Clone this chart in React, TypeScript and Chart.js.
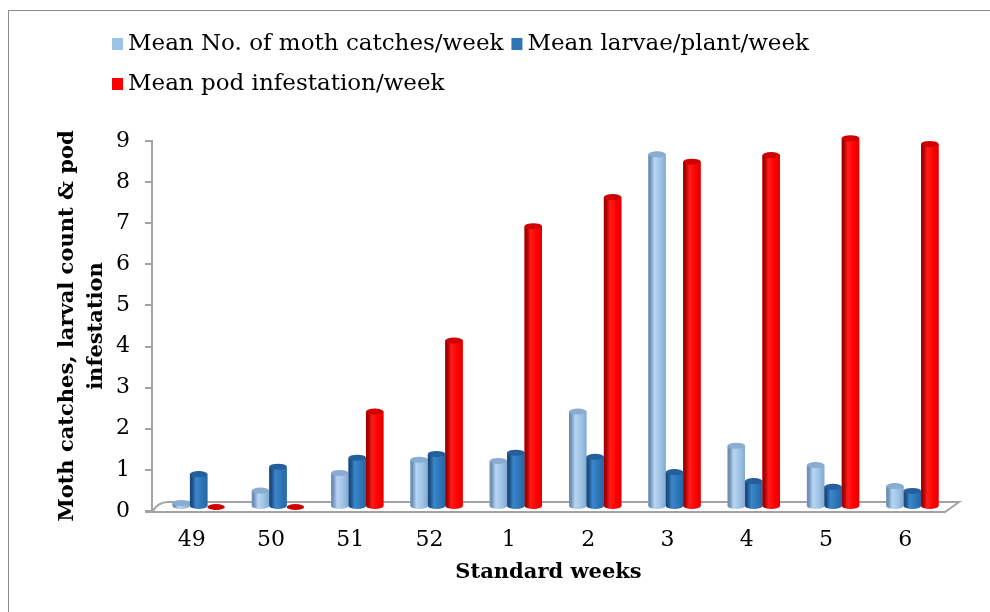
import React, { useEffect, useRef } from "react";
import { Chart, registerables } from "chart.js";

Chart.register(...registerables);

// ---- data ----
const weeks = ["49", "50", "51", "52", "1", "2", "3", "4", "5", "6"];
const mothCatches = [0.1, 0.4, 0.83, 1.15, 1.12, 2.32, 8.58, 1.49, 1.02, 0.51];
const larvaePerPlant = [0.8, 0.98, 1.2, 1.29, 1.32, 1.22, 0.85, 0.63, 0.49, 0.39];
const podInfestation = [0, 0, 2.32, 4.05, 6.83, 7.54, 8.4, 8.56, 8.97, 8.83];
const seriesLabels = [
  "Mean No. of moth catches/week",
  "Mean larvae/plant/week",
  "Mean pod infestation/week",
];
const yTitle = ["Moth catches, larval count & pod", "infestation"];
const xTitle = "Standard weeks";
const yMin = 0;
const yMax = 9;

// ---- styles ----
const palette = [
  { base: "#9DC3E6", edge: "#7190b6", light: "#b7d5f2", right: "#86a8cf", top: "#8aabd2" },
  { base: "#2E75B6", edge: "#1b4d80", light: "#3a86cc", right: "#2866a3", top: "#245f9c" },
  { base: "#FF0000", edge: "#a50000", light: "#ff1c1c", right: "#e00000", top: "#d00000" },
];
const SERIF = '"DejaVu Serif", "Liberation Serif", serif';
const AXIS_GRAY = "#a3a3a3";
const DEPTH_X = 7;
const DEPTH_Y = -4;

const depthPlugin = {
  id: "depth3d",
  beforeDatasetsDraw(chart: any) {
    const { ctx, chartArea: a } = chart;
    ctx.save();
    ctx.strokeStyle = AXIS_GRAY;
    ctx.lineWidth = 2;
    ctx.beginPath();
    // front edge of floor
    ctx.moveTo(a.left - 7, a.bottom + 1);
    ctx.lineTo(a.right, a.bottom + 1);
    ctx.lineTo(a.right + 14, a.bottom - 9);
    // back edge of floor
    ctx.lineTo(a.left + 16, a.bottom - 9);
    ctx.quadraticCurveTo(a.left + 6, a.bottom - 9, a.left, a.bottom + 1);
    ctx.stroke();
    ctx.restore();
    ctx.save();
    ctx.translate(DEPTH_X, DEPTH_Y);
  },
  afterDatasetsDraw(chart: any) {
    const ctx = chart.ctx;
    chart.data.datasets.forEach((_ds: any, di: number) => {
      const meta = chart.getDatasetMeta(di);
      const pal = palette[di];
      meta.data.forEach((bar: any) => {
        const { x, y, base, width } = bar.getProps(["x", "y", "base", "width"], true);
        const l = x - width / 2;
        const r = x + width / 2;
        const ry = Math.min(3, width * 0.18);
        if (base - y > 0.5) {
          const g = ctx.createLinearGradient(l, 0, r, 0);
          g.addColorStop(0, pal.edge);
          g.addColorStop(0.12, pal.edge);
          g.addColorStop(0.35, pal.light);
          g.addColorStop(0.7, pal.base);
          g.addColorStop(1, pal.right);
          ctx.fillStyle = g;
          ctx.beginPath();
          ctx.rect(l, y, width, base - y);
          ctx.moveTo(r, base);
          ctx.ellipse(x, base, width / 2, ry, 0, 0, Math.PI);
          ctx.fill();
        }
        ctx.beginPath();
        ctx.ellipse(x, y, width / 2, ry, 0, 0, Math.PI * 2);
        ctx.fillStyle = pal.top;
        ctx.fill();
      });
    });
    ctx.restore();
  },
};

const legendPlugin = {
  id: "topLegend",
  afterDraw(chart: any) {
    const ctx = chart.ctx;
    const rows = [[0, 1], [2]];
    ctx.save();
    ctx.font = `23px ${SERIF}`;
    ctx.textBaseline = "middle";
    ctx.textAlign = "left";
    let yy = 44;
    rows.forEach((row) => {
      let xx = 112;
      row.forEach((i) => {
        const label = chart.data.datasets[i].label;
        ctx.fillStyle = palette[i].base;
        ctx.fillRect(xx, yy - 6, 11, 12);
        ctx.fillStyle = "#000";
        ctx.fillText(label, xx + 16, yy);
        xx += 16 + ctx.measureText(label).width + 8;
      });
      yy += 40;
    });
    ctx.restore();
  },
};

export default function App() {
  const canvasRef = useRef<HTMLCanvasElement | null>(null);

  useEffect(() => {
    if (!canvasRef.current) return;
    const seriesValues = [mothCatches, larvaePerPlant, podInfestation];
    const chart = new Chart(canvasRef.current, {
      type: "bar",
      data: {
        labels: weeks,
        datasets: seriesValues.map((vals, i) => ({
          label: seriesLabels[i],
          data: vals,
          backgroundColor: palette[i].base,
          borderWidth: 0,
          categoryPercentage: 0.66,
          barPercentage: 1.0,
        })),
      },
      options: {
        responsive: false,
        animation: false,
        devicePixelRatio: 1,
        layout: { padding: { left: 40, top: 141, right: 45, bottom: 20 } },
        plugins: {
          legend: { display: false },
          tooltip: { enabled: false },
        },
        scales: {
          x: {
            grid: { display: false, drawTicks: false },
            border: { display: false },
            ticks: {
              color: "#000",
              font: { family: SERIF, size: 22 },
              padding: 16,
              maxRotation: 0,
            },
            title: {
              display: true,
              text: xTitle,
              color: "#000",
              font: { family: SERIF, size: 21, weight: "bold" },
              padding: { top: 0, bottom: 7 },
            },
            afterFit: (scale: any) => {
              scale.height = 81;
            },
          },
          y: {
            min: yMin,
            max: yMax,
            grid: {
              display: true,
              drawOnChartArea: false,
              drawTicks: true,
              tickLength: 7,
              color: AXIS_GRAY,
              lineWidth: 2,
            },
            border: { display: true, color: AXIS_GRAY, width: 2 },
            ticks: {
              stepSize: 1,
              color: "#000",
              font: { family: SERIF, size: 22 },
              padding: 15,
            },
            title: {
              display: true,
              text: yTitle,
              color: "#000",
              font: { family: SERIF, size: 21, weight: "bold", lineHeight: 1.38 },
              padding: { top: 13, bottom: 0 },
            },
            afterFit: (scale: any) => {
              scale.width = 112;
            },
          },
        },
      },
      plugins: [depthPlugin, legendPlugin],
    });
    return () => chart.destroy();
  }, []);

  return (
    <div
      style={{
        position: "fixed",
        left: 0,
        top: 0,
        width: 990,
        height: 612,
        overflow: "hidden",
        background: "#fff",
      }}
    >
      <div
        style={{
          position: "absolute",
          left: 8,
          top: 10,
          width: 1000,
          height: 700,
          border: "1px solid #8c8c8c",
        }}
      />
      <canvas
        ref={canvasRef}
        width={990}
        height={612}
        style={{ position: "absolute", left: 0, top: 0, width: 990, height: 612 }}
      />
    </div>
  );
}
